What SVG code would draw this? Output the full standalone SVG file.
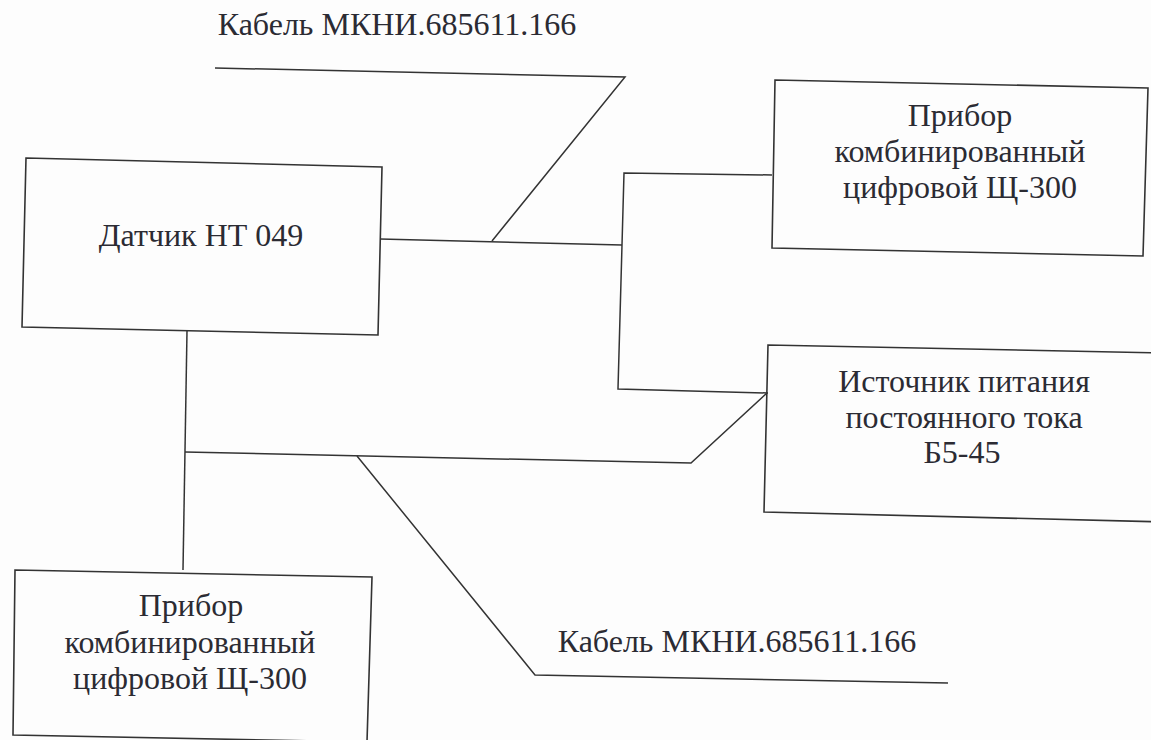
<svg xmlns="http://www.w3.org/2000/svg" width="1151" height="740" viewBox="0 0 1151 740">
<style>
.box{fill:none;stroke:#333;stroke-width:1.6;stroke-linejoin:miter}
.wire{fill:none;stroke:#333;stroke-width:1.5}
.t{font-family:"Liberation Serif","Times New Roman",serif;font-size:32px;fill:#2b2b33;text-anchor:middle}
</style>
<rect width="1151" height="740" fill="#fdfdfd"/>
<g id="connectors">
<polyline class="wire" points="215,68 625,77 492,241"/>
<polyline class="wire" points="380,239 622,245"/>
<polyline class="wire" points="772,175 624,173 618,389 768,393"/>
<polyline class="wire" points="187,331 183,570"/>
<polyline class="wire" points="185,452 410,457 691,463 767,393"/>
<polyline class="wire" points="357,456 535,675 948,683"/>
</g>
<g id="cable-top"><text class="t" x="397" y="35">Кабель МКНИ.685611.166</text></g>
<g id="cable-bottom"><text class="t" x="737" y="652">Кабель МКНИ.685611.166</text></g>
<g id="sensor">
<polygon class="box" points="26,158 382,167 378,335 22,327"/>
<text class="t" x="201" y="246">Датчик НТ 049</text>
</g>
<g id="meter-right">
<polygon class="box" points="775,80 1148,88 1143,256 772,248"/>
<text class="t" x="960" y="126">Прибор</text>
<text class="t" x="960" y="162">комбинированный</text>
<text class="t" x="960" y="198">цифровой Щ-300</text>
</g>
<g id="power-supply">
<polygon class="box" points="1165,353 768,345 764,512 1165,522"/>
<text class="t" x="964" y="392">Источник питания</text>
<text class="t" x="964" y="428">постоянного тока</text>
<text class="t" x="962" y="463">Б5-45</text>
</g>
<g id="meter-bottom">
<polygon class="box" points="15,570 372,577 367,742 13,735"/>
<text class="t" x="191" y="616">Прибор</text>
<text class="t" x="190" y="653">комбинированный</text>
<text class="t" x="190" y="689">цифровой Щ-300</text>
</g>
</svg>
